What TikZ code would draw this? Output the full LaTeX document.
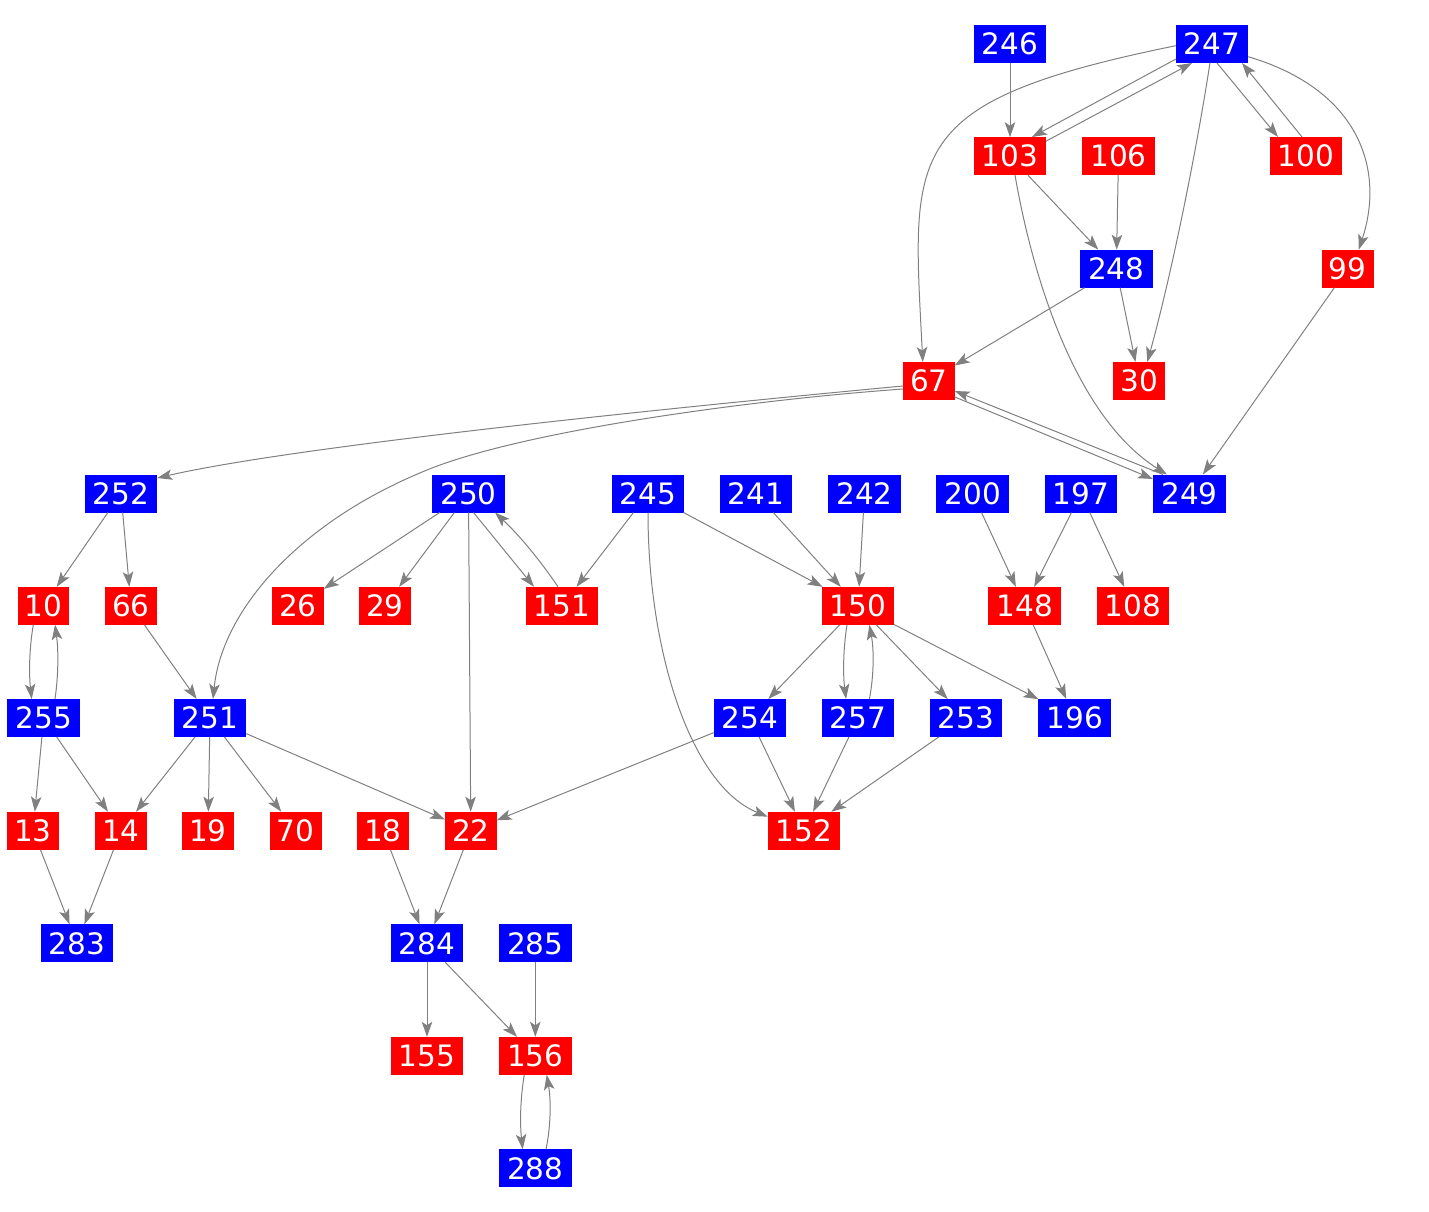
\documentclass[tikz,border=0pt]{standalone}
\usepackage{fontspec}
\setmainfont{DejaVu Sans}
\usetikzlibrary{arrows.meta,calc}
\tikzset{
  nd/.style={rectangle, inner sep=0pt, outer sep=0pt, minimum height=38pt, text=white,
    font=\fontsize{29.5}{31}\selectfont},
  bn/.style={nd, fill=blue},
  rn/.style={nd, fill=red},
  wa/.style={minimum width=72.5pt},
  wb/.style={minimum width=51.7pt},
  edge/.style={draw=gray, line width=1pt, -{Stealth[length=15pt,width=10.5pt,inset=3.5pt]}}
}
\begin{document}
\begin{tikzpicture}[x=1pt,y=-1pt]
\useasboundingbox (0,0) rectangle (1429,1212);
% row 1
\node[bn,wa] (n246) at (1010,43.7) {246};
\node[bn,wa] (n247) at (1212,43.7) {247};
% row 2
\node[rn,wa] (n103) at (1010,156.2) {103};
\node[rn,wa] (n106) at (1118.5,156.2) {106};
\node[rn,wa] (n100) at (1306,156.2) {100};
% row 3
\node[bn,wa] (n248) at (1116.3,268.7) {248};
\node[rn,wb] (n99) at (1347.7,268.7) {99};
% row 4
\node[rn,wb] (n67) at (928.8,381) {67};
\node[rn,wb] (n30) at (1139.3,381) {30};
% row 5
\node[bn,wa] (n252) at (121,493.5) {252};
\node[bn,wa] (n250) at (468.5,493.5) {250};
\node[bn,wa] (n245) at (648,493.5) {245};
\node[bn,wa] (n241) at (756,493.5) {241};
\node[bn,wa] (n242) at (864.5,493.5) {242};
\node[bn,wa] (n200) at (972.7,493.5) {200};
\node[bn,wa] (n197) at (1081,493.5) {197};
\node[bn,wa] (n249) at (1189.5,493.5) {249};
% row 6
\node[rn,wb] (n10) at (43.6,605.8) {10};
\node[rn,wb] (n66) at (131,605.8) {66};
\node[rn,wb] (n26) at (298,605.8) {26};
\node[rn,wb] (n29) at (385,605.8) {29};
\node[rn,wa] (n151) at (562,605.8) {151};
\node[rn,wa] (n150) at (858,605.8) {150};
\node[rn,wa] (n148) at (1024.7,605.8) {148};
\node[rn,wa] (n108) at (1133,605.8) {108};
% row 7
\node[bn,wa] (n255) at (43.7,718) {255};
\node[bn,wa] (n251) at (210,718) {251};
\node[bn,wa] (n254) at (750,718) {254};
\node[bn,wa] (n257) at (858,718) {257};
\node[bn,wa] (n253) at (966,718) {253};
\node[bn,wa] (n196) at (1074.7,718) {196};
% row 8
\node[rn,wb] (n13) at (33,830.7) {13};
\node[rn,wb] (n14) at (121,830.7) {14};
\node[rn,wb] (n19) at (208,830.7) {19};
\node[rn,wb] (n70) at (295.7,830.7) {70};
\node[rn,wb] (n18) at (383,830.7) {18};
\node[rn,wb] (n22) at (470.8,830.7) {22};
\node[rn,wa] (n152) at (804,830.7) {152};
% row 9
\node[bn,wa] (n283) at (77,943.3) {283};
\node[bn,wa] (n284) at (427,943.3) {284};
\node[bn,wa] (n285) at (535.3,943.3) {285};
% row 10
\node[rn,wa] (n155) at (427,1055.8) {155};
\node[rn,wa] (n156) at (535.3,1055.8) {156};
% row 11
\node[bn,wa] (n288) at (535.3,1168.3) {288};

% ---- edges ----
\draw[edge] (n246) -- (n103);
\draw[edge] ($(n247.center)+(-36,15.3)$) -- ($(n103.center)+(22,-19.2)$);
\draw[edge] ($(n103.center)+(36,-15)$) -- ($(n247.center)+(-20,19.3)$);
\draw[edge] ($(n247.center)+(5,19.3)$) -- ($(n100.center)+(-28,-19.2)$);
\draw[edge] ($(n100.center)+(-4,-19.2)$) -- ($(n247.center)+(30,19.3)$);
\draw[edge] ($(n247.west)+(0,2)$) .. controls (900,102) and (912,150) .. ($(n67.north)+(-6,0)$);
\draw[edge] ($(n247.south)+(-2,0)$) .. controls (1195,160) and (1170,280) .. ($(n30.north)+(8,0)$);
\draw[edge] ($(n247.east)+(0,13)$) .. controls (1360,90) and (1385,170) .. ($(n99.north)+(11,0)$);
\draw[edge] (n106) -- (n248);
\draw[edge] (n103) -- (n248);
\draw[edge] ($(n103.south)+(5,0)$) .. controls (1035,290) and (1080,420) .. ($(n249.north)+(-22.5,0)$);
\draw[edge] (n248) -- (n67);
\draw[edge] (n248) -- (n30);
\draw[edge] (n99) -- (n249);
\draw[edge] ($(n67.center)+(26,16)$) -- ($(n249.center)+(-36.5,-14.5)$);
\draw[edge] ($(n249.center)+(-26.5,-19)$) -- ($(n67.center)+(26,10)$);
\draw[edge] ($(n67.west)+(0,5)$) .. controls (700,405) and (300,445) .. ($(n252.east)+(0,-15.5)$);
\draw[edge] ($(n67.west)+(0,8)$) .. controls (750,400) and (530,430) .. (432,468)
   .. controls (300,520) and (222,610) .. ($(n251.north)+(3,0)$);
\draw[edge] (n252) -- (n10);
\draw[edge] (n252) -- (n66);
\draw[edge] (n250) -- (n26);
\draw[edge] (n250) -- (n29);
\draw[edge] ($(n250.center)+(5,19)$) -- ($(n151.center)+(-28,-19)$);
\draw[edge] ($(n151.center)+(-4,-19)$) .. controls (540,560) and (519,535) .. ($(n250.center)+(26.5,19)$);
\draw[edge] (n250) -- (n22);
\draw[edge] (n245) -- (n151);
\draw[edge] (n245) -- (n150);
\draw[edge] (n245.south) .. controls (648,650) and (690,785) .. ($(n152.west)+(0,-14)$);
\draw[edge] (n241) -- (n150);
\draw[edge] (n242) -- (n150);
\draw[edge] (n200) -- (n148);
\draw[edge] (n197) -- (n148);
\draw[edge] (n197) -- (n108);
\draw[edge] ($(n10.center)+(-10.3,18.9)$) .. controls (29,650) and (29,675) .. ($(n255.center)+(-12,-19)$);
\draw[edge] ($(n255.center)+(11.3,-19)$) .. controls (58.5,675) and (58.5,650) .. ($(n10.center)+(11.4,18.9)$);
\draw[edge] (n66) -- (n251);
\draw[edge] (n150) -- (n254);
\draw[edge] ($(n150.center)+(-11,19)$) .. controls (843,650) and (843,675) .. ($(n257.center)+(-12,-19)$);
\draw[edge] ($(n257.center)+(11.4,-19)$) .. controls (874,675) and (874,650) .. ($(n150.center)+(11.4,19)$);
\draw[edge] (n150) -- (n253);
\draw[edge] (n150) -- (n196);
\draw[edge] (n148) -- (n196);
\draw[edge] (n255) -- (n13);
\draw[edge] (n255) -- (n14);
\draw[edge] (n251) -- (n14);
\draw[edge] (n251) -- (n19);
\draw[edge] (n251) -- (n70);
\draw[edge] (n251) -- (n22);
\draw[edge] (n254) -- (n22);
\draw[edge] (n254) -- (n152);
\draw[edge] (n257) -- (n152);
\draw[edge] (n253) -- (n152);
\draw[edge] (n13) -- (n283);
\draw[edge] (n14) -- (n283);
\draw[edge] (n18) -- (n284);
\draw[edge] (n22) -- (n284);
\draw[edge] (n284) -- (n155);
\draw[edge] (n284) -- (n156);
\draw[edge] (n285) -- (n156);
\draw[edge] ($(n156.center)+(-11,19)$) .. controls (520,1100) and (520,1125) .. ($(n288.center)+(-12.6,-19)$);
\draw[edge] ($(n288.center)+(10.7,-19)$) .. controls (551,1125) and (551,1100) .. ($(n156.center)+(11.4,19)$);
\end{tikzpicture}
\end{document}
